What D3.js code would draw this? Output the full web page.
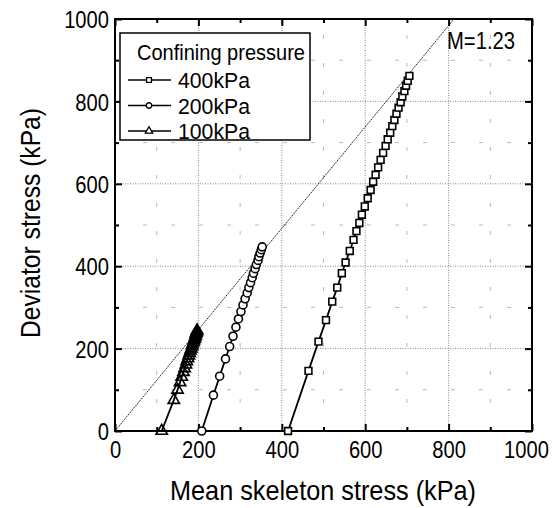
<!DOCTYPE html>
<html>
<head>
<meta charset="utf-8">
<script src="https://cdn.jsdelivr.net/npm/d3@7"></script>
<style>
  html, body { margin: 0; padding: 0; background: #fff; }
  svg { display: block; }
  text { font-family: "Liberation Sans", Arial, sans-serif; fill: #000; }
</style>
</head>
<body>
<svg id="chart" width="560" height="508"></svg>
<script>
// Stress paths (mean skeleton stress p, deviator stress q), kPa
const p400 = [415, 464, 488, 506, 521, 533, 544, 553, 563, 572, 579, 586, 592, 599, 606, 613, 619, 625, 631, 637, 643, 649, 654, 660, 665, 670, 675, 680, 685, 689, 694, 698, 702, 706];
const q400 = [0, 146, 217, 269, 314, 348, 383, 409, 437, 464, 485, 505, 525, 545, 565, 585, 605, 622, 640, 658, 675, 692, 708, 724, 740, 755, 770, 785, 798, 812, 825, 838, 850, 862];

const p200 = [208, 236, 251, 265, 275, 283, 290, 296, 302, 307, 312, 317, 321, 325, 329, 332, 336, 339, 343, 345, 348, 351, 353];
const q200 = [0, 87, 133, 175, 205, 230, 252, 272, 290, 306, 321, 335, 348, 360, 372, 383, 394, 404, 414, 423, 432, 440, 447];

const p100 = [112, 141, 150, 156, 160, 164, 167, 170, 172, 175, 177, 179, 181, 183, 185, 186, 188, 189, 191, 192, 193, 194, 195, 196, 197];
const q100 = [0, 75, 100, 118, 131, 143, 152, 161, 169, 176, 183, 189, 195, 200, 205, 210, 215, 219, 223, 227, 231, 235, 238, 241, 244];

const seriesNames = ["400kPa", "200kPa", "100kPa"];
const legendTitle = "Confining pressure";
const critSlope = 1.23;              // critical state line q = M p
const critLabel = "M=1.23";
const majorTicks = [0, 200, 400, 600, 800, 1000];
const minorTicks = [100, 300, 500, 700, 900];
const xTitle = "Mean skeleton stress (kPa)";
const yTitle = "Deviator stress (kPa)";

const svg = d3.select("#chart");
const x = d3.scaleLinear().domain([0, 1000]).range([115, 532]);
const y = d3.scaleLinear().domain([0, 1000]).range([431, 19]);
const [x0, x1] = x.range();
const [y0, y1] = y.range();

// squeeze text horizontally to a narrow face
function squeeze(sel, factor) {
  sel.each(function () {
    const len = this.getComputedTextLength();
    d3.select(this).attr("textLength", len * factor).attr("lengthAdjust", "spacingAndGlyphs");
  });
}
function fitWidth(sel, w) {
  sel.attr("textLength", w).attr("lengthAdjust", "spacingAndGlyphs");
}

// grid
const grid = svg.append("g");
majorTicks.slice(1, -1).forEach(v => {
  grid.append("line").attr("x1", x(v)).attr("x2", x(v)).attr("y1", y0).attr("y2", y1)
    .attr("stroke", "#888").attr("stroke-width", 1).attr("stroke-dasharray", "1,1.5");
  grid.append("line").attr("x1", x0).attr("x2", x1).attr("y1", y(v)).attr("y2", y(v))
    .attr("stroke", "#888").attr("stroke-width", 1).attr("stroke-dasharray", "1,1.5");
});
minorTicks.forEach(v => {
  grid.append("line").attr("x1", x(v)).attr("x2", x(v)).attr("y1", y0).attr("y2", y1)
    .attr("stroke", "#bbb").attr("stroke-width", 1).attr("stroke-dasharray", "4,24");
  grid.append("line").attr("x1", x0).attr("x2", x1).attr("y1", y(v)).attr("y2", y(v))
    .attr("stroke", "#bbb").attr("stroke-width", 1).attr("stroke-dasharray", "4,24");
});

// critical state line
svg.append("line")
  .attr("x1", x(0)).attr("y1", y(0))
  .attr("x2", x(1000 / critSlope)).attr("y2", y(1000))
  .attr("stroke", "#222").attr("stroke-width", 1).attr("stroke-dasharray", "1.5,0.8");

// axes with inward ticks on all four sides
function axisSet(axisFn, scale, transform, size, values, labels) {
  const a = axisFn(scale).tickValues(values).tickSize(size).tickSizeOuter(0)
    .tickFormat(labels ? d3.format("d") : "");
  const g = svg.append("g").attr("transform", transform).call(a);
  g.select(".domain").remove();
  g.selectAll(".tick line").attr("stroke", "#000").attr("stroke-width", 2);
  return g;
}
const gx = axisSet(d3.axisBottom, x, `translate(0,${y0})`, -7, majorTicks, true);
axisSet(d3.axisBottom, x, `translate(0,${y0})`, -4, minorTicks, false);
axisSet(d3.axisTop, x, `translate(0,${y1})`, -7, majorTicks, false);
axisSet(d3.axisTop, x, `translate(0,${y1})`, -4, minorTicks, false);
const gy = axisSet(d3.axisLeft, y, `translate(${x0},0)`, -7, majorTicks, true);
axisSet(d3.axisLeft, y, `translate(${x0},0)`, -4, minorTicks, false);
axisSet(d3.axisRight, y, `translate(${x1},0)`, -7, majorTicks, false);
axisSet(d3.axisRight, y, `translate(${x1},0)`, -4, minorTicks, false);
svg.selectAll(".tick text").attr("font-family", null).attr("fill", "#000").attr("font-size", 24);
gx.selectAll("text").attr("dy", 0).attr("y", 27);
gy.selectAll("text").attr("x", -6).attr("dy", "0.36em");
squeeze(svg.selectAll(".tick text"), 0.84);
// the last x label sits a little left of its tick so it stays on the page
gx.selectAll(".tick").filter(d => d === 1000).select("text").attr("x", -6);

// frame
svg.append("rect").attr("x", x0).attr("y", y1).attr("width", x1 - x0).attr("height", y0 - y1)
  .attr("fill", "none").attr("stroke", "#000").attr("stroke-width", 2);

// series
const symbols = [d3.symbolSquare, d3.symbolCircle, d3.symbolTriangle];
const symSizes = [46, 50, 56];
const fills = ["#fff", "#fff", "none"];
const data = [
  d3.zip(p400, q400),
  d3.zip(p200, q200),
  d3.zip(p100, q100)
];
const line = d3.line().x(d => x(d[0])).y(d => y(d[1]));
data.forEach((pts, i) => {
  const g = svg.append("g");
  g.append("path").attr("d", line(pts)).attr("fill", "none").attr("stroke", "#000").attr("stroke-width", 1.8);
  g.selectAll("path.m").data(pts).join("path").attr("class", "m")
    .attr("transform", d => `translate(${x(d[0])},${y(d[1])})`)
    .attr("d", d3.symbol(symbols[i], symSizes[i]))
    .attr("fill", fills[i]).attr("stroke", "#000").attr("stroke-width", 1.6);
});

// M label
fitWidth(svg.append("text").attr("x", 447).attr("y", 49).attr("font-size", 23).text(critLabel), 68);

// legend
const lg = svg.append("g");
lg.append("rect").attr("x", 120).attr("y", 33).attr("width", 190).attr("height", 107)
  .attr("fill", "#fff").attr("stroke", "#000").attr("stroke-width", 1.5);
fitWidth(lg.append("text").attr("x", 137).attr("y", 60).attr("font-size", 22).text(legendTitle), 168);
seriesNames.forEach((name, i) => {
  const cy = 80 + i * 25.5;
  lg.append("line").attr("x1", 128).attr("x2", 171).attr("y1", cy).attr("y2", cy)
    .attr("stroke", "#000").attr("stroke-width", 1.5);
  lg.append("path").attr("transform", `translate(149,${cy})`)
    .attr("d", d3.symbol(symbols[i], 24))
    .attr("fill", "#fff").attr("stroke", "#000").attr("stroke-width", 1.3);
  fitWidth(lg.append("text").attr("x", 178).attr("y", cy + 8).attr("font-size", 22).text(name), 72);
});

// axis titles
fitWidth(svg.append("text").attr("x", 323).attr("y", 500).attr("text-anchor", "middle")
  .attr("font-size", 28).text(xTitle), 306);
fitWidth(svg.append("text").attr("transform", `translate(40,223) rotate(-90)`)
  .attr("text-anchor", "middle").attr("font-size", 28).text(yTitle), 230);
</script>
</body>
</html>
